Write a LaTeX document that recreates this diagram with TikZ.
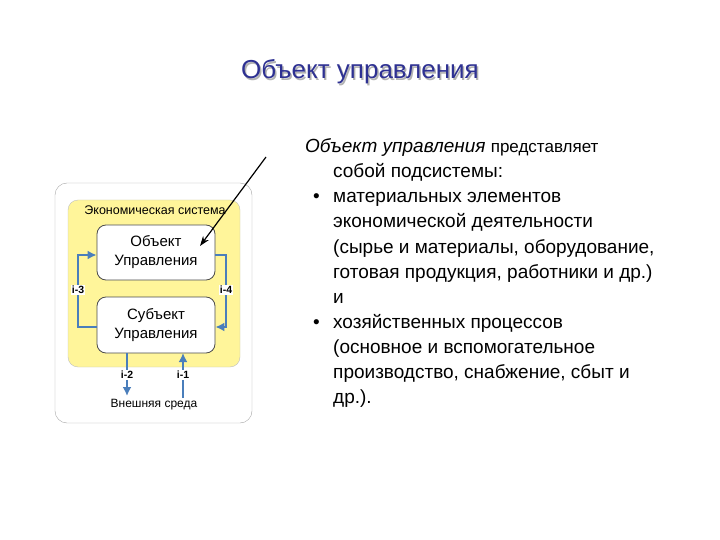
\documentclass[tikz,border=0pt]{standalone}
\usepackage{fontspec}
\setmainfont{Liberation Sans}
\usetikzlibrary{arrows.meta}
\definecolor{lnkc}{HTML}{4A7EBB}
\definecolor{ttl}{HTML}{2E3192}
\definecolor{ylw}{HTML}{FFF59A}
\begin{document}
\begin{tikzpicture}[x=1pt,y=-1pt,
  blk/.style={draw=black!70,rounded corners=9pt,fill=white,line width=0.8pt},
  lnk/.style={draw=lnkc,line width=2pt,-{Latex[length=9pt,width=9pt]}},
  lbl/.style={fill=white,inner sep=1pt,font=\fontsize{10.5}{12}\selectfont\bfseries},
  txt/.style={anchor=base west,inner sep=0pt,font=\fontsize{19}{21}\selectfont}]
\useasboundingbox (0,0) rectangle (720,540);
\node[font=\fontsize{26}{30}\selectfont,text=gray!60] at (361.5,73.5) {Объект управления};
\node[font=\fontsize{26}{30}\selectfont,text=ttl] (title) at (360,72) {Объект управления};
\node[draw=gray!70,rounded corners=12pt,minimum width=197pt,minimum height=240pt] (outer) at (153.5,303) {};
\node[draw=gray!50,fill=ylw,rounded corners=10pt,minimum width=172pt,minimum height=167pt] (eco) at (154,283.5) {};
\node[font=\fontsize{12.5}{14}\selectfont] (ecot) at (155,210) {Экономическая система};
\node[blk,minimum width=118pt,minimum height=55pt,align=center,font=\fontsize{15}{19}\selectfont] (obj) at (156,252.5) {Объект\\Управления};
\node[blk,minimum width=118pt,minimum height=56pt,align=center,font=\fontsize{15}{19}\selectfont] (sub) at (156,325) {Субъект\\Управления};
\coordinate (l1) at (78,327); \coordinate (l2) at (78,255);
\coordinate (r1) at (226,255); \coordinate (r2) at (226,327);
\draw[lnk] (sub.west|-l1) -- (l1) -- (l2) -- (obj.west|-l2);
\draw[lnk] (obj.east|-r1) -- (r1) -- (r2) -- (sub.east|-r2);
\node[lbl] (i3) at (78,290) {i-3};
\node[lbl] (i4) at (226,290) {i-4};
\node[font=\fontsize{12}{14}\selectfont] (env) at (154,405) {Внешняя среда};
\coordinate (d1) at (127,353); \coordinate (d2) at (127,396);
\coordinate (u1) at (183,398); \coordinate (u2) at (183,353);
\draw[lnk] (d1) -- (d2);
\draw[lnk] (u1) -- (u2);
\node[lbl] (i2) at (127,375) {i-2};
\node[lbl] (i1) at (183,375) {i-1};
\coordinate (ptr) at (266,157);
\draw[-{Stealth[length=10pt,width=7pt]},line width=1.2pt] (ptr) -- (200,246);
\node[txt] (t1) at (305,153) {\textit{Объект управления} {\fontsize{17}{18}\selectfont представляет}};
\node[txt] (t2) at (333,178) {собой подсистемы:};
\node[txt] (b1) at (313,203) {•};
\node[txt] (t3) at (333,203) {материальных элементов};
\node[txt] (t4) at (333,228) {экономической деятельности};
\node[txt] (t5) at (333,253) {(сырье и материалы, оборудование,};
\node[txt] (t6) at (333,278) {готовая продукция, работники и др.)};
\node[txt] (t7) at (333,303) {и};
\node[txt] (b2) at (313,328) {•};
\node[txt] (t8) at (333,328) {хозяйственных процессов};
\node[txt] (t9) at (333,353) {(основное и вспомогательное};
\node[txt] (t10) at (333,378) {производство, снабжение, сбыт и};
\node[txt] (t11) at (333,403) {др.).};
\end{tikzpicture}
\end{document}
